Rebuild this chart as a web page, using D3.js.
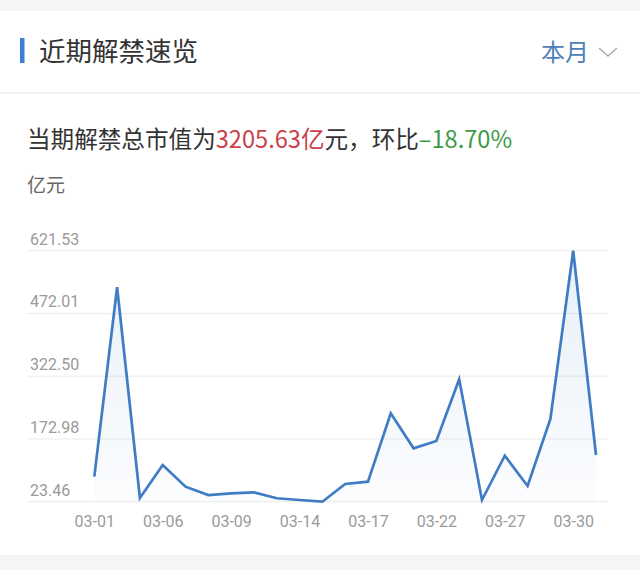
<!DOCTYPE html>
<html>
<head>
<meta charset="utf-8">
<script src="https://cdn.jsdelivr.net/npm/d3@7"></script>
<style>
  body { margin: 0; background: #f4f5f7; }
  svg { display: block; font-family: "Noto Sans CJK SC", "Noto Sans", sans-serif; }
</style>
</head>
<body>
<svg id="chart" width="640" height="570"></svg>
<script>
// chart data
const dates = ['03-01', '03-02', '03-05', '03-06', '03-07', '03-08', '03-09', '03-12',
  '03-13', '03-14', '03-15', '03-16', '03-17', '03-19', '03-20', '03-22', '03-23',
  '03-26', '03-27', '03-28', '03-29', '03-30', '03-31'];
const values = [83.0, 534.4, 32.3, 110.9, 59.2, 39.4, 43.5, 45.9, 31.6, 27.5, 23.46,
  65.6, 71.1, 234.1, 150.7, 168.1, 315.1, 27.5, 133.1, 60.9, 220.5, 621.53, 134.7];
const tickLabels = ['03-01', '03-06', '03-09', '03-14', '03-17', '03-22', '03-27', '03-30'];
const yTicks = [23.46, 172.98, 322.50, 472.01, 621.53];

const svg = d3.select('#chart');

// white card between the grey bands
svg.append('rect').attr('x', 0).attr('y', 11).attr('width', 640).attr('height', 544)
  .attr('fill', '#fff');

// header
svg.append('rect').attr('x', 20).attr('y', 38).attr('width', 4.5).attr('height', 25)
  .attr('fill', '#3d7fd0');
svg.append('text').attr('x', 39).attr('y', 61).attr('font-size', 26.5)
  .attr('fill', '#333').text('近期解禁速览');
svg.append('text').attr('x', 541).attr('y', 61).attr('font-size', 24)
  .attr('fill', '#4f80b8').text('本月');
svg.append('path').attr('d', 'M599,48 L608,56 L617,48')
  .attr('fill', 'none').attr('stroke', '#a8adb5').attr('stroke-width', 1.5);
svg.append('rect').attr('x', 0).attr('y', 92).attr('width', 640).attr('height', 2)
  .attr('fill', '#f0f1f3');

// summary line
const sub = svg.append('text').attr('x', 27).attr('y', 148).attr('font-size', 23.6)
  .attr('fill', '#333');
sub.append('tspan').text('当期解禁总市值为');
sub.append('tspan').attr('fill', '#c9424a').text('3205.63亿');
sub.append('tspan').text('元，环比');
sub.append('tspan').attr('fill', '#3d9b45').text('–18.70%');

svg.append('text').attr('x', 27).attr('y', 192).attr('font-size', 19)
  .attr('fill', '#666').text('亿元');

// scales
const x = d3.scalePoint().domain(dates).range([94.3, 596]);
const y = d3.scaleLinear().domain([23.46, 621.53]).range([501.7, 250.7]);

// grid + y labels
const grid = svg.append('g');
grid.selectAll('line').data(yTicks).join('line')
  .attr('x1', 27).attr('x2', 608)
  .attr('y1', (d) => y(d)).attr('y2', (d) => y(d))
  .attr('stroke', '#ebebeb').attr('stroke-width', 1);
grid.selectAll('text').data(yTicks).join('text')
  .attr('x', 30).attr('y', (d) => y(d) - 6)
  .attr('font-size', 16).attr('fill', '#9a9a9a')
  .attr('font-family', 'Roboto, "Noto Sans", sans-serif')
  .text((d) => d.toFixed(2));

// x axis labels
const xAxis = d3.axisBottom(x).tickValues(tickLabels).tickSize(0).tickPadding(0);
svg.append('g').attr('transform', 'translate(0,516)').call(xAxis)
  .call((g) => g.select('.domain').remove())
  .call((g) => g.selectAll('text').attr('font-size', 16).attr('fill', '#9a9a9a')
    .attr('font-family', 'Roboto, "Noto Sans", sans-serif'));

// area + line
const defs = svg.append('defs');
const grad = defs.append('linearGradient').attr('id', 'fade')
  .attr('x1', 0).attr('y1', 0).attr('x2', 0).attr('y2', 1);
grad.append('stop').attr('offset', '0%').attr('stop-color', '#3f7cc3').attr('stop-opacity', 0.12);
grad.append('stop').attr('offset', '100%').attr('stop-color', '#3f7cc3').attr('stop-opacity', 0.02);

const pts = dates.map((d, i) => ({ date: d, value: values[i] }));

svg.append('path').datum(pts)
  .attr('fill', 'url(#fade)')
  .attr('d', d3.area().x((d) => x(d.date)).y0(y(23.46)).y1((d) => y(d.value)));

svg.append('path').datum(pts)
  .attr('fill', 'none').attr('stroke', '#3f7cc3').attr('stroke-width', 2.7)
  .attr('stroke-linejoin', 'miter')
  .attr('d', d3.line().x((d) => x(d.date)).y((d) => y(d.value)));
</script>
</body>
</html>
